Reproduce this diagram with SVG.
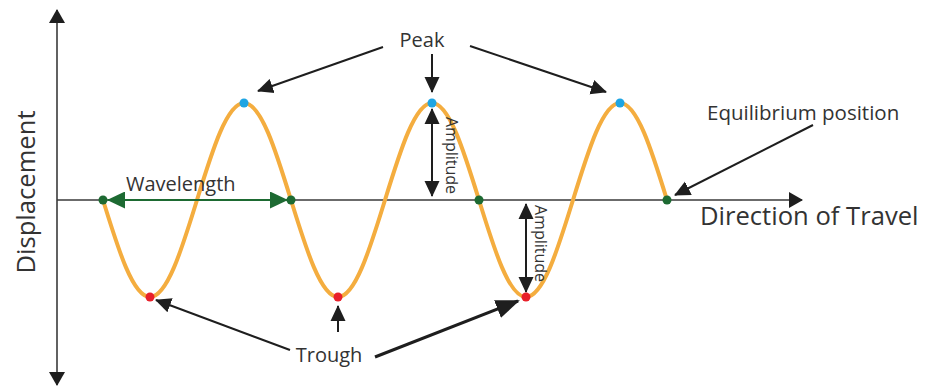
<svg xmlns="http://www.w3.org/2000/svg" width="926" height="387" viewBox="0 0 926 387">
<style>
  text { font-family: "Open Sans", "Liberation Sans", sans-serif; fill: #333333; }
  .lbl { font-size: 20px; }
  .big { font-size: 25.6px; }
  .amp { font-size: 16px; }
  .axis { stroke: #3a3a3a; stroke-width: 1.6; fill: none; }
  .ptr { stroke: #1e1e1e; stroke-width: 2; fill: none; }
  .ptrb { stroke: #1e1e1e; stroke-width: 3; fill: none; }
  .wl { stroke: #1d6a32; stroke-width: 2; fill: none; }
  .wave { stroke: #f4ad3f; stroke-width: 4; fill: none; }
  .peak { fill: #1ea5e3; }
  .trough { fill: #e8202a; }
  .eq { fill: #1d6a32; }
</style>
<defs>
  <marker id="ah" markerUnits="userSpaceOnUse" markerWidth="16" markerHeight="16" refX="15" refY="7.5" orient="auto-start-reverse" viewBox="0 0 16 15">
    <path d="M0,0 L16,7.5 L0,15 Z" fill="#1e1e1e"/>
  </marker>
  <marker id="ahb" markerUnits="userSpaceOnUse" markerWidth="24" markerHeight="20" refX="22" refY="9.5" orient="auto" viewBox="0 0 24 19">
    <path d="M0,0 L24,9.5 L0,19 Z" fill="#1e1e1e"/>
  </marker>
  <marker id="ax" markerUnits="userSpaceOnUse" markerWidth="14" markerHeight="16" refX="13" refY="8" orient="auto-start-reverse" viewBox="0 0 14 16">
    <path d="M0,0 L14,8 L0,16 Z" fill="#1e1e1e"/>
  </marker>
  <marker id="ag" markerUnits="userSpaceOnUse" markerWidth="18" markerHeight="17" refX="17" refY="8.5" orient="auto-start-reverse" viewBox="0 0 18 17">
    <path d="M0,0 L18,8.5 L0,17 Z" fill="#1d6a32"/>
  </marker>
</defs>

<g id="axes">
  <line class="axis" x1="57" y1="10" x2="57" y2="385" marker-start="url(#ax)" marker-end="url(#ax)"/>
  <line class="axis" x1="57" y1="200" x2="802" y2="200" marker-end="url(#ax)"/>
</g>

<g id="wave">
  <path class="wave" d="M103,200 C118.3,249.7 133,297 150,297 C167,297 181.7,249.7 197,200 C212.3,150.3 227,103 244,103 C261,103 275.7,150.3 291,200 C306.3,249.7 321,297 338,297 C355,297 369.7,249.7 385,200 C400.3,150.3 415,103 432,103 C449,103 463.7,150.3 479,200 C494.3,249.7 509,297 526,297 C543,297 557.7,249.7 573,200 C588.3,150.3 603,103 620,103 C637,103 651.7,150.3 667,200"/>
</g>

<g id="connectors">
  <line class="wl" x1="108" y1="200" x2="287" y2="200" marker-start="url(#ag)" marker-end="url(#ag)"/>
  <line class="ptr" x1="383" y1="47" x2="258" y2="91" marker-end="url(#ah)"/>
  <line class="ptr" x1="432" y1="54" x2="432" y2="92" marker-end="url(#ah)"/>
  <line class="ptr" x1="470" y1="46" x2="606" y2="92" marker-end="url(#ah)"/>
  <line class="ptr" x1="432" y1="109" x2="432" y2="196" marker-start="url(#ah)" marker-end="url(#ah)"/>
  <line class="ptr" x1="526" y1="204" x2="526" y2="292" marker-start="url(#ah)" marker-end="url(#ah)"/>
  <line class="ptr" x1="813" y1="125" x2="675" y2="195" marker-end="url(#ah)"/>
  <line class="ptr" x1="290" y1="350" x2="156" y2="300" marker-end="url(#ah)"/>
  <line class="ptr" x1="338" y1="332" x2="338" y2="306" marker-end="url(#ah)"/>
  <line class="ptrb" x1="375" y1="357" x2="518" y2="301" marker-end="url(#ahb)"/>
</g>

<g id="dots">
  <circle class="peak" cx="244" cy="103" r="4.5"/>
  <circle class="peak" cx="432" cy="103" r="4.5"/>
  <circle class="peak" cx="620" cy="103" r="4.5"/>
  <circle class="trough" cx="150" cy="297" r="4.5"/>
  <circle class="trough" cx="338" cy="297" r="4.5"/>
  <circle class="trough" cx="526" cy="297" r="4.5"/>
  <circle class="eq" cx="103" cy="200" r="4.5"/>
  <circle class="eq" cx="291" cy="200" r="4.5"/>
  <circle class="eq" cx="479" cy="200" r="4.5"/>
  <circle class="eq" cx="667" cy="200" r="4.5"/>
</g>

<g id="label-peak"><text class="lbl" x="422" y="47" text-anchor="middle">Peak</text></g>
<g id="label-trough"><text class="lbl" x="329" y="362" text-anchor="middle">Trough</text></g>
<g id="label-wavelength"><text class="lbl" x="126" y="191">Wavelength</text></g>
<g id="label-equilibrium"><text class="lbl" x="707" y="120" style="font-size:20.5px">Equilibrium position</text></g>
<g id="label-direction"><text class="big" x="700" y="225">Direction of Travel</text></g>
<g id="label-displacement"><text class="big" transform="translate(35,192) rotate(-90)" text-anchor="middle">Displacement</text></g>
<g id="label-amplitude1"><text class="amp" transform="translate(446,117) rotate(90)">Amplitude</text></g>
<g id="label-amplitude2"><text class="amp" transform="translate(535,205) rotate(90)">Amplitude</text></g>
</svg>
